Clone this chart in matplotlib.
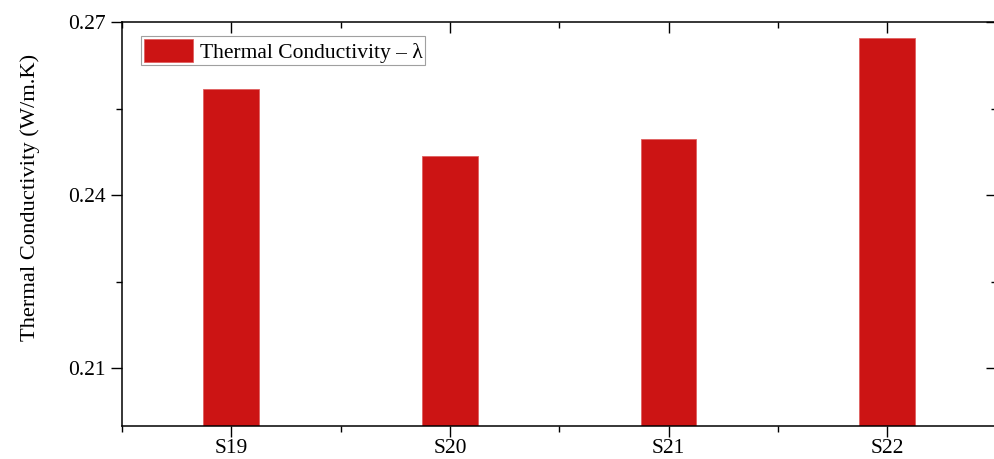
#bar chart of thermal conductivity for samples S19-S22
import matplotlib.pyplot as plt
from matplotlib.ticker import MultipleLocator

plt.rcParams['font.family'] = ['Liberation Serif', 'DejaVu Serif']

#data
samples = ["S19", "S20", "S21", "S22"]
conductivity = [0.2584, 0.2467, 0.2498, 0.2673]

fig = plt.figure(figsize=(9.95, 4.59), dpi=100)
ax = fig.add_axes([0.1226, 0.0719, 0.879, 0.8802])

pos = list(range(len(samples)))
ax.bar(pos, conductivity, width=0.255, color="#cc1414", edgecolor="#e06060",
       linewidth=0.6, label="Thermal Conductivity – λ", zorder=2)

ax.set_xlim(-0.5, 3.5)
ax.set_ylim(0.2, 0.27)
ax.set_xticks(pos)
ax.set_xticklabels(samples)
ax.xaxis.set_minor_locator(MultipleLocator(0.5))
ax.set_yticks([0.21, 0.24, 0.27])
ax.set_yticklabels(["0.21", "0.24", "0.27"])
ax.yaxis.set_minor_locator(MultipleLocator(0.015))

ax.tick_params(axis="both", which="major", labelsize=15.5, length=8, width=1, direction="out")
ax.tick_params(axis="both", which="minor", length=4, width=1, direction="out")
ax.tick_params(axis="x", which="major", pad=1.5)
ax.tick_params(axis="x", which="both", top=True)
ax.tick_params(axis="y", which="both", right=True)
# inward ticks on the top and right sides
for t in ax.xaxis.get_majorticklines()[1::2] + ax.xaxis.get_minorticklines()[1::2]:
    t.set_marker(3)
for t in ax.yaxis.get_majorticklines()[1::2] + ax.yaxis.get_minorticklines()[1::2]:
    t.set_marker(0)

for s in ax.spines.values():
    s.set_linewidth(1.1)

fig.text(0.03, 0.569, "Thermal Conductivity (W/m.K)", rotation=90,
         ha="center", va="center", fontsize=16.2)

leg = ax.legend(loc="upper left", bbox_to_anchor=(0.022, 0.965), fontsize=15.5,
                frameon=True, fancybox=False, borderpad=0.12, handlelength=2.3,
                handleheight=1.3, handletextpad=0.3, borderaxespad=0)
leg.get_frame().set_edgecolor("#888888")
leg.get_frame().set_linewidth(0.8)

plt.savefig("out.png", dpi=100)
